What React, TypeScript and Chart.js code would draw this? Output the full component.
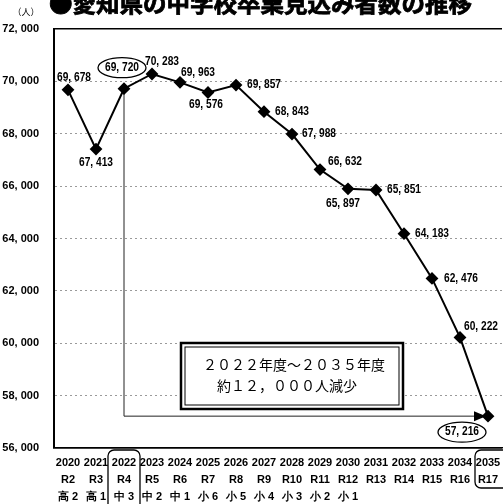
import { useEffect, useRef } from 'react';
import { Chart, registerables } from 'chart.js';

Chart.register(...registerables);

const title = '●愛知県の中学校卒業見込み者数の推移';
const unitLabel = '（人）';
const years = ['2020', '2021', '2022', '2023', '2024', '2025', '2026', '2027', '2028', '2029', '2030', '2031', '2032', '2033', '2034', '2035'];
const reiwa = ['R2', 'R3', 'R4', 'R5', 'R6', 'R7', 'R8', 'R9', 'R10', 'R11', 'R12', 'R13', 'R14', 'R15', 'R16', 'R17'];
const grades = ['高 2', '高 1', '中 3', '中 2', '中 1', '小 6', '小 5', '小 4', '小 3', '小 2', '小 1', '', '', '', '', ''];
const graduates = [69678, 67413, 69720, 70283, 69963, 69576, 69857, 68843, 67988, 66632, 65897, 65851, 64183, 62476, 60222, 57216];
const yMin = 56000;
const yMax = 72000;
const yStep = 2000;
const noteLines = ['２０２２年度～２０３５年度', '約１２，０００人減少'];
const circledIndices = [2, 15];
const boxedColumns = [2, 15];
const fromIndex = 2;
const toIndex = 15;

// label placement (style): [dx, dy] from point centre
const labelOffsets: number[][] = [
  [6, -12], [0, 14], [-2, -21], [10, -12], [18, -10], [-2, 12], [28, 0], [28, 0],
  [27, 0], [25, -8], [-5, 15], [28, 0], [28, 0], [29, 0], [21, -11], [-26, 16],
];

const SANS = '"Liberation Sans", Arial, sans-serif';
const CJK = '"Noto Sans CJK JP", sans-serif';

const fmt = (v: number) => v.toLocaleString('en-US').replace(',', ', ');

const decorPlugin = {
  id: 'decor',
  beforeDatasetsDraw(chart: any) {
    const { ctx } = chart;
    const xs = chart.scales.x;
    const ys = chart.scales.y;
    const x0 = xs.getPixelForValue(fromIndex);
    const y0 = ys.getPixelForValue(graduates[fromIndex]);
    const x1 = xs.getPixelForValue(toIndex);
    const y1 = ys.getPixelForValue(graduates[toIndex]);
    ctx.save();
    ctx.strokeStyle = '#222';
    ctx.lineWidth = 1;
    ctx.beginPath();
    ctx.moveTo(x0, y0);
    ctx.lineTo(x0, y1);
    ctx.lineTo(x1 - 12, y1);
    ctx.stroke();
    ctx.fillStyle = '#000';
    ctx.beginPath();
    ctx.moveTo(x1 - 2, y1);
    ctx.lineTo(x1 - 14, y1 - 5);
    ctx.lineTo(x1 - 14, y1 + 5);
    ctx.closePath();
    ctx.fill();

    // note box
    const bx = xs.getPixelForValue(4) + 1;
    const bw = 222;
    const by = 343;
    const bh = 66;
    ctx.fillStyle = '#fff';
    ctx.fillRect(bx, by, bw, bh);
    ctx.strokeStyle = '#000';
    ctx.lineWidth = 2.5;
    ctx.strokeRect(bx, by, bw, bh);
    ctx.lineWidth = 1;
    ctx.strokeRect(bx + 4, by + 4, bw - 8, bh - 8);
    ctx.fillStyle = '#000';
    ctx.font = '14px ' + CJK;
    ctx.textAlign = 'center';
    ctx.textBaseline = 'middle';
    ctx.fillText(noteLines[0], bx + bw / 2 + 2, by + 22);
    ctx.fillText(noteLines[1], bx + bw / 2 - 5, by + 43);
    ctx.restore();
  },
  afterDatasetsDraw(chart: any) {
    const { ctx } = chart;
    const meta = chart.getDatasetMeta(0);
    ctx.save();
    ctx.font = 'bold 12px ' + SANS;
    ctx.fillStyle = '#000';
    ctx.textAlign = 'center';
    ctx.textBaseline = 'middle';
    meta.data.forEach((pt: any, i: number) => {
      const [dx, dy] = labelOffsets[i];
      const tx = pt.x + dx;
      const ty = pt.y + dy;
      ctx.save();
      ctx.translate(tx, ty);
      ctx.scale(0.85, 1);
      ctx.fillText(fmt(graduates[i]), 0, 0);
      ctx.restore();
      if (circledIndices.includes(i)) {
        ctx.strokeStyle = '#000';
        ctx.lineWidth = 1.3;
        ctx.beginPath();
        ctx.ellipse(tx, ty, 24, 10, 0, 0, Math.PI * 2);
        ctx.stroke();
      }
    });
    ctx.restore();
  },
  afterDraw(chart: any) {
    const { ctx } = chart;
    const xs = chart.scales.x;
    ctx.save();
    ctx.fillStyle = '#000';
    ctx.strokeStyle = '#000';
    ctx.textAlign = 'left';
    ctx.textBaseline = 'alphabetic';
    ctx.font = 'bold 23.5px ' + CJK;
    ctx.fillText(title, 49, 11.5);
    ctx.lineWidth = 0.8;
    ctx.strokeText(title, 49, 11.5);
    ctx.font = '9px ' + CJK;
    ctx.textAlign = 'center';
    ctx.textBaseline = 'middle';
    ctx.fillText(unitLabel, 26, 12);

    ctx.lineWidth = 1.3;
    boxedColumns.forEach((idx, k) => {
      const cx = xs.getPixelForValue(idx);
      const left = k === 0 ? cx - 16 : cx - 13;
      const right = k === 0 ? cx + 16 : cx + 24;
      const top = 450;
      const bottom = k === 0 ? 520 : 488;
      ctx.beginPath();
      ctx.roundRect(left, top, right - left, bottom - top, 6);
      ctx.stroke();
    });
    ctx.restore();
  },
};

export default function App() {
  const ref = useRef<HTMLCanvasElement | null>(null);
  useEffect(() => {
    if (!ref.current) return;
    const isEdge = (c: any) => c.tick && (c.tick.value === yMax || c.tick.value === yMin);
    const chart = new Chart(ref.current, {
      type: 'line',
      data: {
        labels: years.map((y, i) => [y, reiwa[i], grades[i]]),
        datasets: [
          {
            data: graduates,
            borderColor: '#000',
            borderWidth: 2,
            pointStyle: 'rectRot',
            pointRadius: 5,
            pointBackgroundColor: '#000',
            pointBorderColor: '#000',
            tension: 0,
            clip: false as any,
          },
        ],
      },
      options: {
        responsive: false,
        animation: false,
        layout: { autoPadding: false, padding: { top: 29, left: 0, right: 1, bottom: 0 } },
        plugins: {
          legend: { display: false },
          tooltip: { enabled: false },
          title: { display: false },
        },
        scales: {
          x: {
            type: 'category',
            offset: true,
            grid: { display: false, drawTicks: false },
            border: { display: true, color: '#000', width: 1.5 },
            ticks: {
              autoSkip: false,
              maxRotation: 0,
              minRotation: 0,
              padding: 6,
              color: '#000',
              font: { family: SANS, size: 11, weight: 'bold', lineHeight: 17 / 11 },
            },
            afterFit: (s: any) => {
              s.height = 56;
              s.paddingRight = 0;
              s.paddingLeft = 0;
            },
          },
          y: {
            min: yMin,
            max: yMax,
            ticks: {
              stepSize: yStep,
              padding: 15,
              color: '#000',
              font: { family: SANS, size: 11, weight: 'bold' },
              callback: (v: any) => fmt(Number(v)),
            },
            grid: {
              drawTicks: false,
              color: (c: any) => (isEdge(c) ? '#000' : '#9a9a9a'),
              lineWidth: (c: any) => (isEdge(c) ? 1.5 : 1),
            },
            border: {
              display: true,
              color: '#000',
              width: 2,
              dash: (c: any) => (c.tick && !isEdge(c) ? [2, 3] : []),
            },
            afterFit: (s: any) => {
              s.width = 54;
            },
          },
        },
      },
      plugins: [decorPlugin],
    } as any);
    return () => chart.destroy();
  }, []);
  return (
    <div style={{ position: 'absolute', left: 0, top: 0, width: 503, height: 504, background: '#fff' }}>
      <canvas ref={ref} width={503} height={504} />
    </div>
  );
}
